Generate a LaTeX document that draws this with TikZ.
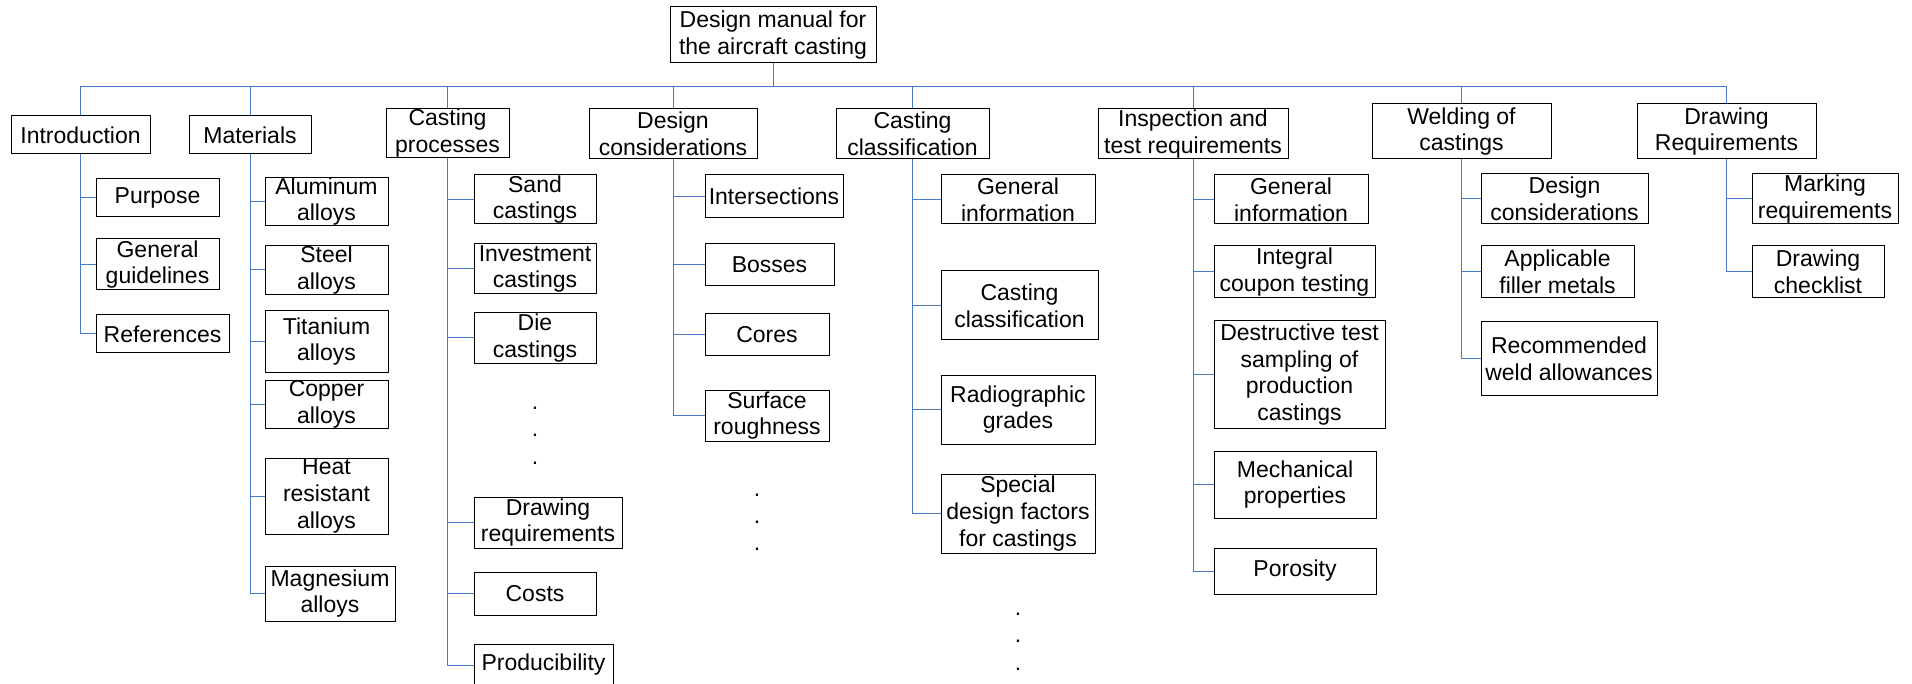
\documentclass[tikz,border=0pt]{standalone}
\usepackage{fontspec}
\setmainfont{Liberation Sans}
\definecolor{linkblue}{RGB}{75,120,200}
\newcommand\bx[6]{%
  \pgfmathsetmacro\bxw{(#4-#2)*0.5}%
  \pgfmathsetmacro\bxh{(#5-#3)*0.5}%
  \node[box, minimum width=\bxw pt, minimum height=\bxh pt] (#1) at ({(#2+#4)/2},{(#3+#5)/2}) {#6};}
\begin{document}
\begin{tikzpicture}[x=0.5pt,y=-0.5pt,
  box/.style={draw=black, line width=0.5pt, inner sep=0pt, align=center,
    font=\fontsize{11.5pt}{13.3pt}\selectfont},
  conn/.style={draw=linkblue, line width=0.5pt},
  dotmark/.style={inner sep=0pt, anchor=base, font=\fontsize{11.5pt}{13.3pt}\selectfont}]
\useasboundingbox (0,0) rectangle (1912,684);

% root and categories
\bx{root}{670}{7}{876}{63}{Design manual for\\the aircraft casting}
\bx{intro}{11}{116}{150}{154}{Introduction}
\bx{mat}{189}{116}{311}{154}{Materials}
\bx{cp}{386}{109}{509}{157}{Casting\\processes}
\bx{dc}{589}{109}{757}{159}{Design\\considerations}
\bx{cc}{836}{109}{989}{159}{Casting\\classification}
\bx{itr}{1098}{109}{1288}{159}{Inspection and\\test requirements}
\bx{weld}{1372}{104}{1551}{159}{Welding of\\castings}
\bx{drw}{1637}{104}{1816}{159}{Drawing\\Requirements}

% introduction
\bx{purpose}{96}{179}{219}{217}{Purpose}
\bx{genguide}{96}{239}{219}{290}{General\\guidelines}
\bx{refs}{96}{315}{229}{353}{References}

% materials
\bx{alu}{265}{179}{388}{224}{Aluminum\\alloys}
\bx{steel}{265}{246}{388}{294}{Steel\\alloys}
\bx{ti}{265}{311}{388}{372}{Titanium\\alloys}
\bx{cu}{265}{381}{388}{428}{Copper\\alloys}
\bx{heat}{265}{458}{388}{534}{Heat\\resistant\\alloys}
\bx{mg}{265}{566}{395}{621}{Magnesium\\alloys}

% casting processes
\bx{sand}{474}{175}{596}{224}{Sand\\castings}
\bx{invest}{474}{244}{596}{294}{Investment\\castings}
\bx{die}{474}{313}{596}{363}{Die\\castings}
\bx{drawreq}{474}{497}{622}{548}{Drawing\\requirements}
\bx{costs}{474}{572}{596}{615}{Costs}
\bx{prod}{474}{644}{613}{686}{Producibility}
\node[dotmark] (cpd1) at (535,409.5) {.};
\node[dotmark] (cpd2) at (535,436.5) {.};
\node[dotmark] (cpd3) at (535,464) {.};

% design considerations
\bx{inter}{705}{175}{843}{218}{Intersections}
\bx{bosses}{705}{244}{834}{286}{Bosses}
\bx{cores}{705}{314}{829}{356}{Cores}
\bx{surf}{705}{390}{829}{441}{Surface\\roughness}
\node[dotmark] (dcd1) at (757,496.5) {.};
\node[dotmark] (dcd2) at (757,523.5) {.};
\node[dotmark] (dcd3) at (757,550) {.};

% casting classification
\bx{gi1}{941}{175}{1095}{224}{General\\information}
\bx{ccl}{941}{271}{1098}{340}{Casting\\classification}
\bx{radio}{941}{375}{1095}{444}{Radiographic\\grades}
\bx{special}{941}{474}{1095}{553}{Special\\design factors\\for castings}
\node[dotmark] (ccd1) at (1018,615) {.};
\node[dotmark] (ccd2) at (1018,642.5) {.};
\node[dotmark] (ccd3) at (1018,670) {.};

% inspection
\bx{gi2}{1214}{175}{1368}{224}{General\\information}
\bx{icoup}{1214}{246}{1375}{298}{Integral\\coupon testing}
\bx{destr}{1214}{321}{1385}{428}{Destructive test\\sampling of\\production\\castings}
\bx{mech}{1214}{451}{1376}{518}{Mechanical\\properties}
\bx{poro}{1214}{548}{1376}{594}{Porosity}

% welding
\bx{wdc}{1481}{174}{1648}{224}{Design\\considerations}
\bx{fill}{1481}{246}{1634}{298}{Applicable\\filler metals}
\bx{rwa}{1481}{322}{1657}{395}{Recommended\\weld allowances}

% drawing requirements
\bx{mark}{1752}{174}{1898}{224}{Marking\\requirements}
\bx{chk}{1752}{246}{1884}{298}{Drawing\\checklist}

% top-level connectors
\foreach \c in {intro,mat,cp,dc,cc,itr,weld,drw}
  \draw[conn] (root.south) -- ++(0,23) -| (\c.north);

% child connectors
\foreach \p/\c in {intro/purpose,intro/genguide,intro/refs,
  mat/alu,mat/steel,mat/ti,mat/cu,mat/heat,mat/mg,
  cp/sand,cp/invest,cp/die,cp/drawreq,cp/costs,cp/prod,
  dc/inter,dc/bosses,dc/cores,dc/surf,
  cc/gi1,cc/ccl,cc/radio,cc/special,
  itr/gi2,itr/icoup,itr/destr,itr/mech,itr/poro,
  weld/wdc,weld/fill,weld/rwa,
  drw/mark,drw/chk}
  \draw[conn] (\p.south) |- (\c.west);
\end{tikzpicture}
\end{document}
